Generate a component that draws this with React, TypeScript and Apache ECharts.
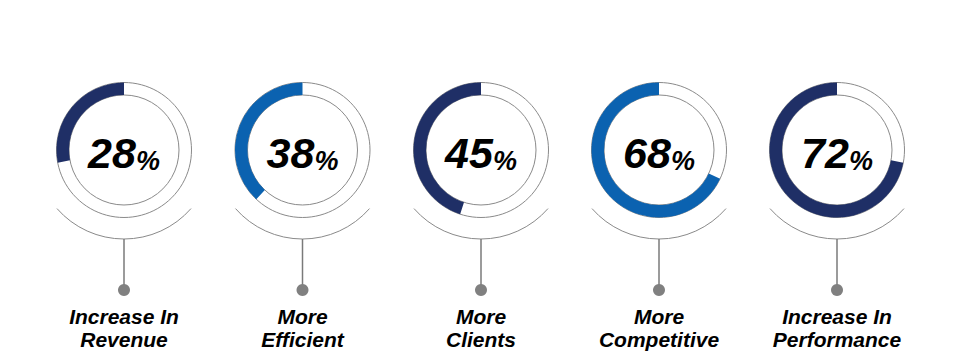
import React, { useEffect, useRef } from "react";
import * as echarts from "echarts";

const labels = ["Increase In\nRevenue", "More\nEfficient", "More\nClients", "More\nCompetitive", "Increase In\nPerformance"];
const values = [28, 38, 45, 68, 72];
const colors = ["#1f2f66", "#0b62b0", "#1f2f66", "#0b62b0", "#1f2f66"];

const W = 959;
const H = 363;
const CX = [124, 302.5, 481, 659, 837];
const CY = 150;
const R_IN = 55;
const R_OUT = 67.5;
const R_ARC = 89;
const GRAY = "#8a8a8a";
const FONT = "'Liberation Sans', Arial, sans-serif";

export default function App() {
  const ref = useRef<HTMLDivElement>(null);
  useEffect(() => {
    document.body.style.margin = "0";
    const chart = echarts.init(ref.current!, null, { renderer: "svg" });
    const series: any[] = values.map((v, i) => ({
      type: "pie",
      center: [CX[i], CY],
      radius: [R_IN, R_OUT],
      startAngle: 90,
      clockwise: false,
      silent: true,
      z: 3,
      labelLine: { show: false },
      data: [
        {
          value: v,
          itemStyle: { color: colors[i] },
          label: {
            show: true,
            position: "center",
            formatter: () => `{a|${v}}{b|%}`,
            rich: {
              a: { fontSize: 43, fontWeight: "bold", fontStyle: "italic", fontFamily: FONT, color: "#000", padding: [5, 0, 0, 0] },
              b: { fontSize: 27, fontWeight: "bold", fontStyle: "italic", fontFamily: FONT, color: "#000", verticalAlign: "bottom", padding: [5, 0, 0, 0] },
            },
          },
        },
        { value: 100 - v, itemStyle: { color: "rgba(0,0,0,0)" }, label: { show: false } },
      ],
    }));

    const graphics: any[] = [];
    const half = Math.asin(67 / R_ARC);
    CX.forEach((cx, i) => {
      graphics.push(
        { type: "circle", z: 1, silent: true, shape: { cx, cy: CY, r: R_OUT }, style: { fill: "none", stroke: GRAY, lineWidth: 1 } },
        { type: "circle", z: 1, silent: true, shape: { cx, cy: CY, r: R_IN }, style: { fill: "none", stroke: GRAY, lineWidth: 1 } },
        {
          type: "arc",
          z: 1,
          silent: true,
          shape: { cx, cy: CY, r: R_ARC, startAngle: Math.PI / 2 - half, endAngle: Math.PI / 2 + half, clockwise: true },
          style: { fill: "none", stroke: GRAY, lineWidth: 1 },
        },
        { type: "line", z: 1, silent: true, shape: { x1: cx, y1: CY + R_ARC, x2: cx, y2: 288 }, style: { stroke: "#7a7a7a", lineWidth: 1.5 } },
        { type: "circle", z: 1, silent: true, shape: { cx, cy: 290, r: 6 }, style: { fill: "#808080" } },
        {
          type: "text",
          z: 1,
          silent: true,
          x: cx,
          y: 305,
          style: {
            text: labels[i],
            fontSize: 21,
            fontWeight: "bold",
            fontStyle: "italic",
            fontFamily: FONT,
            fill: "#000",
            align: "center",
            verticalAlign: "top",
            lineHeight: 23,
          },
        }
      );
    });

    chart.setOption({
      animation: false,
      backgroundColor: "#fff",
      series,
      graphic: graphics,
    });
    return () => chart.dispose();
  }, []);
  return <div ref={ref} style={{ width: W, height: H }} />;
}
